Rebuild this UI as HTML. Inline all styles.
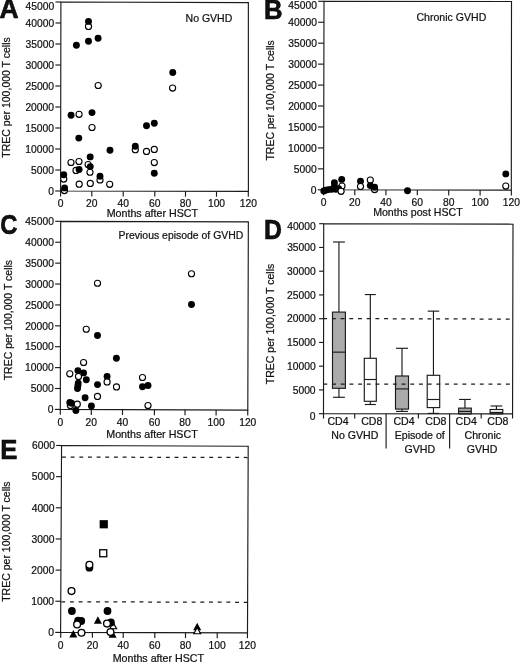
<!DOCTYPE html><html><head><meta charset="utf-8"><title>TREC figure</title><style>html,body{margin:0;padding:0;background:#fff;}svg{display:block;filter:grayscale(1) blur(0.3px);}text{font-family:"Liberation Sans",sans-serif;fill:#111;stroke:#111;stroke-width:0.22px;}</style></head><body>
<svg width="520" height="665" viewBox="0 0 520 665">
<rect width="520" height="665" fill="#fff"/>
<g stroke="#1b1b1b" fill="none" stroke-linecap="butt">
<polygon points="60.9,2 248.35,2.6 248.4,191.4 60.6,191" fill="none" stroke-width="1.15" stroke-linejoin="miter"/>
<polygon points="324,1.3 511.5,1.5 511.3,190.1 323.6,189.8" fill="none" stroke-width="1.15" stroke-linejoin="miter"/>
<polygon points="60.7,221.35 248.35,221.9 247.8,410.1 60.3,409.4" fill="none" stroke-width="1.15" stroke-linejoin="miter"/>
<polygon points="323.7,223.7 513,224.2 512.55,413.9 323.5,413.7" fill="none" stroke-width="1.15" stroke-linejoin="miter"/>
<polygon points="61.55,445.5 248.2,446.3 247.5,632.8 60.6,632.4" fill="none" stroke-width="1.15" stroke-linejoin="miter"/>
<line x1="55.2" y1="191" x2="60.6" y2="191" stroke-width="1.15"/>
<text x="53.9" y="194.7" font-size="10.3" text-anchor="end">0</text>
<line x1="55.23" y1="170" x2="60.63" y2="170" stroke-width="1.15"/>
<text x="53.93" y="173.7" font-size="10.3" text-anchor="end">5000</text>
<line x1="55.27" y1="149" x2="60.67" y2="149" stroke-width="1.15"/>
<text x="53.97" y="152.7" font-size="10.3" text-anchor="end">10000</text>
<line x1="55.3" y1="128" x2="60.7" y2="128" stroke-width="1.15"/>
<text x="54" y="131.7" font-size="10.3" text-anchor="end">15000</text>
<line x1="55.33" y1="107" x2="60.73" y2="107" stroke-width="1.15"/>
<text x="54.03" y="110.7" font-size="10.3" text-anchor="end">20000</text>
<line x1="55.37" y1="86" x2="60.77" y2="86" stroke-width="1.15"/>
<text x="54.07" y="89.7" font-size="10.3" text-anchor="end">25000</text>
<line x1="55.4" y1="65" x2="60.8" y2="65" stroke-width="1.15"/>
<text x="54.1" y="68.7" font-size="10.3" text-anchor="end">30000</text>
<line x1="55.43" y1="44" x2="60.83" y2="44" stroke-width="1.15"/>
<text x="54.13" y="47.7" font-size="10.3" text-anchor="end">35000</text>
<line x1="55.47" y1="23" x2="60.87" y2="23" stroke-width="1.15"/>
<text x="54.17" y="26.7" font-size="10.3" text-anchor="end">40000</text>
<line x1="55.5" y1="2" x2="60.9" y2="2" stroke-width="1.15"/>
<text x="54.2" y="9.7" font-size="10.3" text-anchor="end">45000</text>
<line x1="60.6" y1="191" x2="60.6" y2="196.4" stroke-width="1.15"/>
<text x="60.6" y="207.2" font-size="10.3" text-anchor="middle">0</text>
<line x1="91.8" y1="191.07" x2="91.8" y2="196.47" stroke-width="1.15"/>
<text x="91.8" y="207.2" font-size="10.3" text-anchor="middle">20</text>
<line x1="123.2" y1="191.13" x2="123.2" y2="196.53" stroke-width="1.15"/>
<text x="123.2" y="207.2" font-size="10.3" text-anchor="middle">40</text>
<line x1="154.8" y1="191.2" x2="154.8" y2="196.6" stroke-width="1.15"/>
<text x="154.8" y="207.2" font-size="10.3" text-anchor="middle">60</text>
<line x1="185.5" y1="191.27" x2="185.5" y2="196.67" stroke-width="1.15"/>
<text x="185.5" y="207.2" font-size="10.3" text-anchor="middle">80</text>
<line x1="216.5" y1="191.33" x2="216.5" y2="196.73" stroke-width="1.15"/>
<text x="216.5" y="207.2" font-size="10.3" text-anchor="middle">100</text>
<line x1="248.3" y1="191.4" x2="248.3" y2="196.8" stroke-width="1.15"/>
<text x="248.3" y="207.2" font-size="10.3" text-anchor="middle">120</text>
<line x1="317.8" y1="189.8" x2="323.6" y2="189.8" stroke-width="1.15"/>
<text x="316.6" y="193.5" font-size="10.3" text-anchor="end">0</text>
<line x1="317.84" y1="168.86" x2="323.64" y2="168.86" stroke-width="1.15"/>
<text x="316.64" y="172.56" font-size="10.3" text-anchor="end">5000</text>
<line x1="317.89" y1="147.91" x2="323.69" y2="147.91" stroke-width="1.15"/>
<text x="316.69" y="151.61" font-size="10.3" text-anchor="end">10000</text>
<line x1="317.93" y1="126.97" x2="323.73" y2="126.97" stroke-width="1.15"/>
<text x="316.73" y="130.67" font-size="10.3" text-anchor="end">15000</text>
<line x1="317.98" y1="106.02" x2="323.78" y2="106.02" stroke-width="1.15"/>
<text x="316.78" y="109.72" font-size="10.3" text-anchor="end">20000</text>
<line x1="318.02" y1="85.08" x2="323.82" y2="85.08" stroke-width="1.15"/>
<text x="316.82" y="88.78" font-size="10.3" text-anchor="end">25000</text>
<line x1="318.07" y1="64.13" x2="323.87" y2="64.13" stroke-width="1.15"/>
<text x="316.87" y="67.83" font-size="10.3" text-anchor="end">30000</text>
<line x1="318.11" y1="43.19" x2="323.91" y2="43.19" stroke-width="1.15"/>
<text x="316.91" y="46.89" font-size="10.3" text-anchor="end">35000</text>
<line x1="318.16" y1="22.24" x2="323.96" y2="22.24" stroke-width="1.15"/>
<text x="316.96" y="25.94" font-size="10.3" text-anchor="end">40000</text>
<line x1="318.2" y1="1.3" x2="324" y2="1.3" stroke-width="1.15"/>
<text x="317" y="8.9" font-size="10.3" text-anchor="end">45000</text>
<line x1="323.6" y1="189.8" x2="323.6" y2="195.2" stroke-width="1.15"/>
<text x="323.6" y="206.3" font-size="10.3" text-anchor="middle">0</text>
<line x1="354.8" y1="189.85" x2="354.8" y2="195.25" stroke-width="1.15"/>
<text x="354.8" y="206.3" font-size="10.3" text-anchor="middle">20</text>
<line x1="385.9" y1="189.9" x2="385.9" y2="195.3" stroke-width="1.15"/>
<text x="385.9" y="206.3" font-size="10.3" text-anchor="middle">40</text>
<line x1="417.3" y1="189.95" x2="417.3" y2="195.35" stroke-width="1.15"/>
<text x="417.3" y="206.3" font-size="10.3" text-anchor="middle">60</text>
<line x1="448.7" y1="190" x2="448.7" y2="195.4" stroke-width="1.15"/>
<text x="448.7" y="206.3" font-size="10.3" text-anchor="middle">80</text>
<line x1="480.1" y1="190.05" x2="480.1" y2="195.45" stroke-width="1.15"/>
<text x="480.1" y="206.3" font-size="10.3" text-anchor="middle">100</text>
<line x1="511.35" y1="190.1" x2="511.35" y2="195.5" stroke-width="1.15"/>
<text x="511.35" y="206.3" font-size="10.3" text-anchor="middle">120</text>
<line x1="54.9" y1="409.4" x2="60.3" y2="409.4" stroke-width="1.15"/>
<text x="53.6" y="413.1" font-size="10.3" text-anchor="end">0</text>
<line x1="54.94" y1="388.51" x2="60.34" y2="388.51" stroke-width="1.15"/>
<text x="53.64" y="392.21" font-size="10.3" text-anchor="end">5000</text>
<line x1="54.99" y1="367.61" x2="60.39" y2="367.61" stroke-width="1.15"/>
<text x="53.69" y="371.31" font-size="10.3" text-anchor="end">10000</text>
<line x1="55.03" y1="346.72" x2="60.43" y2="346.72" stroke-width="1.15"/>
<text x="53.73" y="350.42" font-size="10.3" text-anchor="end">15000</text>
<line x1="55.08" y1="325.82" x2="60.48" y2="325.82" stroke-width="1.15"/>
<text x="53.78" y="329.52" font-size="10.3" text-anchor="end">20000</text>
<line x1="55.12" y1="304.93" x2="60.52" y2="304.93" stroke-width="1.15"/>
<text x="53.82" y="308.63" font-size="10.3" text-anchor="end">25000</text>
<line x1="55.17" y1="284.03" x2="60.57" y2="284.03" stroke-width="1.15"/>
<text x="53.87" y="287.73" font-size="10.3" text-anchor="end">30000</text>
<line x1="55.21" y1="263.14" x2="60.61" y2="263.14" stroke-width="1.15"/>
<text x="53.91" y="266.84" font-size="10.3" text-anchor="end">35000</text>
<line x1="55.26" y1="242.24" x2="60.66" y2="242.24" stroke-width="1.15"/>
<text x="53.96" y="245.94" font-size="10.3" text-anchor="end">40000</text>
<line x1="55.3" y1="221.35" x2="60.7" y2="221.35" stroke-width="1.15"/>
<text x="54" y="225.05" font-size="10.3" text-anchor="end">45000</text>
<line x1="60.3" y1="409.4" x2="60.3" y2="414.8" stroke-width="1.15"/>
<text x="60.3" y="426" font-size="10.3" text-anchor="middle">0</text>
<line x1="91.3" y1="409.52" x2="91.3" y2="414.92" stroke-width="1.15"/>
<text x="91.3" y="426" font-size="10.3" text-anchor="middle">20</text>
<line x1="122.5" y1="409.63" x2="122.5" y2="415.03" stroke-width="1.15"/>
<text x="122.5" y="426" font-size="10.3" text-anchor="middle">40</text>
<line x1="154.4" y1="409.75" x2="154.4" y2="415.15" stroke-width="1.15"/>
<text x="154.4" y="426" font-size="10.3" text-anchor="middle">60</text>
<line x1="185" y1="409.87" x2="185" y2="415.27" stroke-width="1.15"/>
<text x="185" y="426" font-size="10.3" text-anchor="middle">80</text>
<line x1="216.1" y1="409.98" x2="216.1" y2="415.38" stroke-width="1.15"/>
<text x="216.1" y="426" font-size="10.3" text-anchor="middle">100</text>
<line x1="247.75" y1="410.1" x2="247.75" y2="415.5" stroke-width="1.15"/>
<text x="247.75" y="426" font-size="10.3" text-anchor="middle">120</text>
<line x1="319" y1="413.7" x2="323.5" y2="413.7" stroke-width="1.15"/>
<text x="315.6" y="419.9" font-size="10.3" text-anchor="end">0</text>
<line x1="319.02" y1="389.95" x2="323.52" y2="389.95" stroke-width="1.15"/>
<text x="315.62" y="393.65" font-size="10.3" text-anchor="end">5000</text>
<line x1="319.05" y1="366.2" x2="323.55" y2="366.2" stroke-width="1.15"/>
<text x="315.65" y="369.9" font-size="10.3" text-anchor="end">10000</text>
<line x1="319.07" y1="342.45" x2="323.57" y2="342.45" stroke-width="1.15"/>
<text x="315.68" y="346.15" font-size="10.3" text-anchor="end">15000</text>
<line x1="319.1" y1="318.7" x2="323.6" y2="318.7" stroke-width="1.15"/>
<text x="315.7" y="322.4" font-size="10.3" text-anchor="end">20000</text>
<line x1="319.12" y1="294.95" x2="323.62" y2="294.95" stroke-width="1.15"/>
<text x="315.73" y="298.65" font-size="10.3" text-anchor="end">25000</text>
<line x1="319.15" y1="271.2" x2="323.65" y2="271.2" stroke-width="1.15"/>
<text x="315.75" y="274.9" font-size="10.3" text-anchor="end">30000</text>
<line x1="319.18" y1="247.45" x2="323.68" y2="247.45" stroke-width="1.15"/>
<text x="315.78" y="251.15" font-size="10.3" text-anchor="end">35000</text>
<line x1="319.2" y1="223.7" x2="323.7" y2="223.7" stroke-width="1.15"/>
<text x="315.8" y="229.6" font-size="10.3" text-anchor="end">40000</text>
<line x1="55.25" y1="632.4" x2="60.6" y2="632.4" stroke-width="1.15"/>
<text x="53.95" y="636.1" font-size="10.3" text-anchor="end">0</text>
<line x1="55.41" y1="601.25" x2="60.76" y2="601.25" stroke-width="1.15"/>
<text x="54.11" y="604.95" font-size="10.3" text-anchor="end">1000</text>
<line x1="55.57" y1="570.1" x2="60.92" y2="570.1" stroke-width="1.15"/>
<text x="54.27" y="573.8" font-size="10.3" text-anchor="end">2000</text>
<line x1="55.73" y1="538.95" x2="61.08" y2="538.95" stroke-width="1.15"/>
<text x="54.43" y="542.65" font-size="10.3" text-anchor="end">3000</text>
<line x1="55.88" y1="507.8" x2="61.23" y2="507.8" stroke-width="1.15"/>
<text x="54.58" y="511.5" font-size="10.3" text-anchor="end">4000</text>
<line x1="56.04" y1="476.65" x2="61.39" y2="476.65" stroke-width="1.15"/>
<text x="54.74" y="480.35" font-size="10.3" text-anchor="end">5000</text>
<line x1="56.2" y1="445.5" x2="61.55" y2="445.5" stroke-width="1.15"/>
<text x="54.9" y="449.2" font-size="10.3" text-anchor="end">6000</text>
<line x1="60.7" y1="632.4" x2="60.7" y2="637.8" stroke-width="1.15"/>
<text x="60.7" y="649.3" font-size="10.3" text-anchor="middle">0</text>
<line x1="92.4" y1="632.47" x2="92.4" y2="637.87" stroke-width="1.15"/>
<text x="92.4" y="649.3" font-size="10.3" text-anchor="middle">20</text>
<line x1="123.2" y1="632.53" x2="123.2" y2="637.93" stroke-width="1.15"/>
<text x="123.2" y="649.3" font-size="10.3" text-anchor="middle">40</text>
<line x1="154.8" y1="632.6" x2="154.8" y2="638" stroke-width="1.15"/>
<text x="154.8" y="649.3" font-size="10.3" text-anchor="middle">60</text>
<line x1="185.5" y1="632.67" x2="185.5" y2="638.07" stroke-width="1.15"/>
<text x="185.5" y="649.3" font-size="10.3" text-anchor="middle">80</text>
<line x1="217.2" y1="632.74" x2="217.2" y2="638.14" stroke-width="1.15"/>
<text x="217.2" y="649.3" font-size="10.3" text-anchor="middle">100</text>
<line x1="247.45" y1="632.8" x2="247.45" y2="638.2" stroke-width="1.15"/>
<text x="247.45" y="649.3" font-size="10.3" text-anchor="middle">120</text>
<line x1="323.5" y1="413.8" x2="323.5" y2="418.5" stroke-width="1.15"/>
<line x1="354.7" y1="413.8" x2="354.7" y2="418.5" stroke-width="1.15"/>
<line x1="418.4" y1="413.8" x2="418.4" y2="418.5" stroke-width="1.15"/>
<line x1="481.2" y1="413.8" x2="481.2" y2="418.5" stroke-width="1.15"/>
<line x1="512.55" y1="413.8" x2="512.55" y2="418.5" stroke-width="1.15"/>
<line x1="386.1" y1="413.8" x2="386.1" y2="448.6" stroke-width="1.15"/>
<line x1="449.6" y1="413.8" x2="449.6" y2="448.6" stroke-width="1.15"/>
<line x1="62" y1="457.1" x2="247.6" y2="457.5" stroke-width="1.25" stroke-dasharray="3.9 4.76"/>
<line x1="61.3" y1="601.75" x2="247.3" y2="602.3" stroke-width="1.25" stroke-dasharray="3.9 4.79"/>
<line x1="338.95" y1="242" x2="338.95" y2="312.1" stroke-width="1.15"/>
<line x1="333.02" y1="242" x2="344.88" y2="242" stroke-width="1.15"/>
<line x1="338.95" y1="388.3" x2="338.95" y2="397.3" stroke-width="1.15"/>
<line x1="333.02" y1="397.3" x2="344.88" y2="397.3" stroke-width="1.15"/>
<rect x="332.5" y="312.1" width="12.9" height="76.2" fill="#aaaaaa" stroke-width="1.15"/>
<line x1="332.5" y1="352.15" x2="345.4" y2="352.15" stroke-width="1.15"/>
<line x1="370.3" y1="294.55" x2="370.3" y2="358.3" stroke-width="1.15"/>
<line x1="364.78" y1="294.55" x2="375.82" y2="294.55" stroke-width="1.15"/>
<line x1="370.3" y1="401.3" x2="370.3" y2="404.5" stroke-width="1.15"/>
<line x1="364.78" y1="404.5" x2="375.82" y2="404.5" stroke-width="1.15"/>
<rect x="364.3" y="358.3" width="12" height="43" fill="#fff" stroke-width="1.15"/>
<line x1="364.3" y1="379.5" x2="376.3" y2="379.5" stroke-width="1.15"/>
<line x1="402" y1="348.3" x2="402" y2="376" stroke-width="1.15"/>
<line x1="396.02" y1="348.3" x2="407.98" y2="348.3" stroke-width="1.15"/>
<line x1="402" y1="409.1" x2="402" y2="411.4" stroke-width="1.15"/>
<line x1="396.02" y1="411.4" x2="407.98" y2="411.4" stroke-width="1.15"/>
<rect x="395.5" y="376" width="13" height="33.1" fill="#aaaaaa" stroke-width="1.15"/>
<line x1="395.5" y1="388.9" x2="408.5" y2="388.9" stroke-width="1.15"/>
<line x1="433.45" y1="311.15" x2="433.45" y2="375.3" stroke-width="1.15"/>
<line x1="427.7" y1="311.15" x2="439.2" y2="311.15" stroke-width="1.15"/>
<line x1="433.45" y1="407.6" x2="433.45" y2="413.4" stroke-width="1.15"/>
<line x1="427.7" y1="413.4" x2="439.2" y2="413.4" stroke-width="1.15"/>
<rect x="427.2" y="375.3" width="12.5" height="32.3" fill="#fff" stroke-width="1.15"/>
<line x1="427.2" y1="399.5" x2="439.7" y2="399.5" stroke-width="1.15"/>
<line x1="464.95" y1="399.45" x2="464.95" y2="408.1" stroke-width="1.15"/>
<line x1="459.11" y1="399.45" x2="470.79" y2="399.45" stroke-width="1.15"/>
<line x1="464.95" y1="413.75" x2="464.95" y2="413.75" stroke-width="1.15"/>
<line x1="459.11" y1="413.75" x2="470.79" y2="413.75" stroke-width="1.15"/>
<rect x="458.6" y="408.1" width="12.7" height="5.65" fill="#aaaaaa" stroke-width="1.15"/>
<line x1="458.6" y1="411.4" x2="471.3" y2="411.4" stroke-width="1.15"/>
<line x1="496.45" y1="406" x2="496.45" y2="409.5" stroke-width="1.15"/>
<line x1="490.61" y1="406" x2="502.29" y2="406" stroke-width="1.15"/>
<line x1="496.45" y1="413.7" x2="496.45" y2="413.7" stroke-width="1.15"/>
<line x1="490.61" y1="413.7" x2="502.29" y2="413.7" stroke-width="1.15"/>
<rect x="490.1" y="409.5" width="12.7" height="4.2" fill="#fff" stroke-width="1.15"/>
<line x1="490.1" y1="412.4" x2="502.8" y2="412.4" stroke-width="1.15"/>
<line x1="323.25" y1="318.55" x2="512.2" y2="319.1" stroke-width="1.25" stroke-dasharray="3.9 4.79"/>
<line x1="323.4" y1="384.05" x2="512.2" y2="384.2" stroke-width="1.25" stroke-dasharray="3.9 4.79"/>
</g>
<g>
<circle cx="88.5" cy="26.4" r="3.05" fill="#fff" stroke="#000" stroke-width="1.12"/>
<circle cx="88.5" cy="21.4" r="3.45" fill="#000" stroke="none"/>
<circle cx="76.4" cy="45.3" r="3.45" fill="#000" stroke="none"/>
<circle cx="88.5" cy="41.2" r="3.45" fill="#000" stroke="none"/>
<circle cx="98.1" cy="38.2" r="3.45" fill="#000" stroke="none"/>
<circle cx="98.2" cy="85.5" r="3.05" fill="#fff" stroke="#000" stroke-width="1.12"/>
<circle cx="172.75" cy="72.45" r="3.45" fill="#000" stroke="none"/>
<circle cx="172.6" cy="88.1" r="3.05" fill="#fff" stroke="#000" stroke-width="1.12"/>
<circle cx="71.1" cy="115.3" r="3.45" fill="#000" stroke="none"/>
<circle cx="79.05" cy="114.3" r="3.05" fill="#fff" stroke="#000" stroke-width="1.12"/>
<circle cx="92" cy="112.6" r="3.45" fill="#000" stroke="none"/>
<circle cx="92" cy="127.5" r="3.05" fill="#fff" stroke="#000" stroke-width="1.12"/>
<circle cx="78.8" cy="138.1" r="3.45" fill="#000" stroke="none"/>
<circle cx="146.5" cy="125.75" r="3.45" fill="#000" stroke="none"/>
<circle cx="154.3" cy="123.3" r="3.45" fill="#000" stroke="none"/>
<circle cx="135.3" cy="149.7" r="3.05" fill="#fff" stroke="#000" stroke-width="1.12"/>
<circle cx="135.3" cy="146.3" r="3.45" fill="#000" stroke="none"/>
<circle cx="146.5" cy="151.4" r="3.05" fill="#fff" stroke="#000" stroke-width="1.12"/>
<circle cx="154.3" cy="149.4" r="3.05" fill="#fff" stroke="#000" stroke-width="1.12"/>
<circle cx="110" cy="150.3" r="3.45" fill="#000" stroke="none"/>
<circle cx="90.2" cy="156.9" r="3.45" fill="#000" stroke="none"/>
<circle cx="154.3" cy="162.6" r="3.05" fill="#fff" stroke="#000" stroke-width="1.12"/>
<circle cx="154.3" cy="173.2" r="3.45" fill="#000" stroke="none"/>
<circle cx="71" cy="162.5" r="3.05" fill="#fff" stroke="#000" stroke-width="1.12"/>
<circle cx="79" cy="161.5" r="3.05" fill="#fff" stroke="#000" stroke-width="1.12"/>
<circle cx="88.1" cy="164.6" r="3.05" fill="#fff" stroke="#000" stroke-width="1.12"/>
<circle cx="90" cy="172.25" r="3.05" fill="#fff" stroke="#000" stroke-width="1.12"/>
<circle cx="90.25" cy="166.6" r="3.45" fill="#000" stroke="none"/>
<circle cx="76" cy="170.4" r="3.05" fill="#fff" stroke="#000" stroke-width="1.12"/>
<circle cx="79.1" cy="169.5" r="3.45" fill="#000" stroke="none"/>
<circle cx="63.75" cy="179.1" r="3.05" fill="#fff" stroke="#000" stroke-width="1.12"/>
<circle cx="63.75" cy="174.75" r="3.45" fill="#000" stroke="none"/>
<circle cx="100" cy="180" r="3.05" fill="#fff" stroke="#000" stroke-width="1.12"/>
<circle cx="100" cy="176.25" r="3.45" fill="#000" stroke="none"/>
<circle cx="79.2" cy="184.2" r="3.05" fill="#fff" stroke="#000" stroke-width="1.12"/>
<circle cx="90.3" cy="183.4" r="3.05" fill="#fff" stroke="#000" stroke-width="1.12"/>
<circle cx="109.7" cy="184.3" r="3.05" fill="#fff" stroke="#000" stroke-width="1.12"/>
<circle cx="64.4" cy="190.6" r="3.05" fill="#fff" stroke="#000" stroke-width="1.12"/>
<circle cx="64.6" cy="187.9" r="3.45" fill="#000" stroke="none"/>
<circle cx="342" cy="186.1" r="3.05" fill="#fff" stroke="#000" stroke-width="1.12"/>
<circle cx="323.8" cy="191" r="3.45" fill="#000" stroke="none"/>
<circle cx="325.5" cy="190.3" r="3.45" fill="#000" stroke="none"/>
<circle cx="328.4" cy="189.6" r="3.45" fill="#000" stroke="none"/>
<circle cx="331.8" cy="189.3" r="3.45" fill="#000" stroke="none"/>
<circle cx="335.9" cy="189.3" r="3.45" fill="#000" stroke="none"/>
<circle cx="334.4" cy="186.4" r="3.45" fill="#000" stroke="none"/>
<circle cx="334.4" cy="182.7" r="3.45" fill="#000" stroke="none"/>
<circle cx="338.6" cy="188.6" r="3.45" fill="#000" stroke="none"/>
<circle cx="341.1" cy="191.3" r="3.05" fill="#fff" stroke="#000" stroke-width="1.12"/>
<circle cx="341.7" cy="179.4" r="3.45" fill="#000" stroke="none"/>
<circle cx="360.5" cy="181.2" r="3.45" fill="#000" stroke="none"/>
<circle cx="360.5" cy="186.5" r="3.05" fill="#fff" stroke="#000" stroke-width="1.12"/>
<circle cx="370.3" cy="180.1" r="3.05" fill="#fff" stroke="#000" stroke-width="1.12"/>
<circle cx="370.3" cy="185.6" r="3.45" fill="#000" stroke="none"/>
<circle cx="374.6" cy="189.6" r="3.05" fill="#fff" stroke="#000" stroke-width="1.12"/>
<circle cx="374.6" cy="187.3" r="3.45" fill="#000" stroke="none"/>
<circle cx="407.5" cy="190.8" r="3.45" fill="#000" stroke="none"/>
<circle cx="505.8" cy="173.9" r="3.45" fill="#000" stroke="none"/>
<circle cx="505.8" cy="186.1" r="3.05" fill="#fff" stroke="#000" stroke-width="1.12"/>
<circle cx="191.5" cy="273.75" r="3.05" fill="#fff" stroke="#000" stroke-width="1.12"/>
<circle cx="191.5" cy="304.5" r="3.45" fill="#000" stroke="none"/>
<circle cx="97.5" cy="283.25" r="3.05" fill="#fff" stroke="#000" stroke-width="1.12"/>
<circle cx="86.25" cy="329.25" r="3.05" fill="#fff" stroke="#000" stroke-width="1.12"/>
<circle cx="97.5" cy="335.5" r="3.45" fill="#000" stroke="none"/>
<circle cx="116.4" cy="358.3" r="3.45" fill="#000" stroke="none"/>
<circle cx="83.6" cy="362.5" r="3.05" fill="#fff" stroke="#000" stroke-width="1.12"/>
<circle cx="69.8" cy="373.8" r="3.05" fill="#fff" stroke="#000" stroke-width="1.12"/>
<circle cx="77.9" cy="370.6" r="3.45" fill="#000" stroke="none"/>
<circle cx="83.6" cy="372.9" r="3.45" fill="#000" stroke="none"/>
<circle cx="78.5" cy="376.4" r="3.05" fill="#fff" stroke="#000" stroke-width="1.12"/>
<circle cx="86.3" cy="379.8" r="3.45" fill="#000" stroke="none"/>
<circle cx="78.2" cy="383.1" r="3.45" fill="#000" stroke="none"/>
<circle cx="77.9" cy="385.6" r="3.45" fill="#000" stroke="none"/>
<circle cx="77.5" cy="388.6" r="3.45" fill="#000" stroke="none"/>
<circle cx="97.5" cy="384.6" r="3.45" fill="#000" stroke="none"/>
<circle cx="107.1" cy="376.5" r="3.45" fill="#000" stroke="none"/>
<circle cx="107.1" cy="381.9" r="3.05" fill="#fff" stroke="#000" stroke-width="1.12"/>
<circle cx="116.5" cy="386.9" r="3.05" fill="#fff" stroke="#000" stroke-width="1.12"/>
<circle cx="142.5" cy="377.5" r="3.05" fill="#fff" stroke="#000" stroke-width="1.12"/>
<circle cx="142.5" cy="386.75" r="3.45" fill="#000" stroke="none"/>
<circle cx="148" cy="385.5" r="3.45" fill="#000" stroke="none"/>
<circle cx="85.1" cy="397.8" r="3.45" fill="#000" stroke="none"/>
<circle cx="97.5" cy="396.4" r="3.05" fill="#fff" stroke="#000" stroke-width="1.12"/>
<circle cx="70.4" cy="405.6" r="3.05" fill="#fff" stroke="#000" stroke-width="1.12"/>
<circle cx="69.8" cy="402.4" r="3.45" fill="#000" stroke="none"/>
<circle cx="71.5" cy="403.3" r="3.45" fill="#000" stroke="none"/>
<circle cx="77.3" cy="404.2" r="3.05" fill="#fff" stroke="#000" stroke-width="1.12"/>
<circle cx="75.9" cy="410.5" r="3.45" fill="#000" stroke="none"/>
<circle cx="91.4" cy="405.9" r="3.45" fill="#000" stroke="none"/>
<circle cx="148" cy="405.5" r="3.05" fill="#fff" stroke="#000" stroke-width="1.12"/>
<rect x="99.65" y="520.15" width="8.2" height="8.2" fill="#000" stroke="none"/>
<rect x="99.75" y="549.75" width="7" height="7" fill="#fff" stroke="#000" stroke-width="1.3"/>
<circle cx="89.4" cy="567.7" r="3.9" fill="#000" stroke="none"/>
<circle cx="89.4" cy="564.8" r="3.4" fill="#fff" stroke="#000" stroke-width="1.35"/>
<circle cx="71.5" cy="591.1" r="3.4" fill="#fff" stroke="#000" stroke-width="1.35"/>
<circle cx="71.9" cy="611" r="3.9" fill="#000" stroke="none"/>
<circle cx="107.5" cy="611" r="3.9" fill="#000" stroke="none"/>
<circle cx="78.1" cy="620.6" r="3.9" fill="#000" stroke="none"/>
<circle cx="81.25" cy="621" r="3.9" fill="#000" stroke="none"/>
<circle cx="77.1" cy="624.4" r="3.4" fill="#fff" stroke="#000" stroke-width="1.35"/>
<polygon points="97.9,616.25 101.9,623.75 93.9,623.75" fill="#000" stroke="none"/>
<polygon points="113.2,622.45 116.6,628.75 109.8,628.75" fill="#fff" stroke="#000" stroke-width="1.2"/>
<circle cx="110.9" cy="622.4" r="3.9" fill="#000" stroke="none"/>
<circle cx="107" cy="623.6" r="3.4" fill="#fff" stroke="#000" stroke-width="1.35"/>
<polygon points="73.3,630 77.3,637.5 69.3,637.5" fill="#000" stroke="none"/>
<circle cx="81.5" cy="632.75" r="3.4" fill="#fff" stroke="#000" stroke-width="1.35"/>
<polygon points="112.6,630.35 116.6,637.85 108.6,637.85" fill="#000" stroke="none"/>
<circle cx="110.5" cy="632.1" r="3.4" fill="#fff" stroke="#000" stroke-width="1.35"/>
<polygon points="197.2,622.85 201.2,630.35 193.2,630.35" fill="#000" stroke="none"/>
<polygon points="197.2,627.45 200.6,633.75 193.8,633.75" fill="#fff" stroke="#000" stroke-width="1.2"/>
</g>
<g>
<text x="0" y="0" font-size="27.0" font-weight="bold" transform="translate(-0.6,17.5) scale(0.98,1)" style="stroke:#000;stroke-width:0.6px">A</text>
<text x="0" y="0" font-size="27.0" font-weight="bold" transform="translate(264,18.9) scale(0.95,1)" style="stroke:#000;stroke-width:0.6px">B</text>
<text x="0" y="0" font-size="27.0" font-weight="bold" transform="translate(0.3,234.3) scale(0.88,1)" style="stroke:#000;stroke-width:0.6px">C</text>
<text x="0" y="0" font-size="27.0" font-weight="bold" transform="translate(264,238.5) scale(0.92,1)" style="stroke:#000;stroke-width:0.6px">D</text>
<text x="0" y="0" font-size="28.0" font-weight="bold" transform="translate(0.2,459) scale(0.92,1)" style="stroke:#000;stroke-width:0.6px">E</text>
<text x="0" y="0" font-size="10.5" text-anchor="middle" transform="translate(10,97.45) rotate(-90)">TREC per 100,000 T cells</text>
<text x="0" y="0" font-size="10.5" text-anchor="middle" transform="translate(273.7,100.4) rotate(-90)">TREC per 100,000 T cells</text>
<text x="0" y="0" font-size="10.5" text-anchor="middle" transform="translate(12,320.15) rotate(-90)">TREC per 100,000 T cells</text>
<text x="0" y="0" font-size="10.5" text-anchor="middle" transform="translate(274.2,324) rotate(-90)">TREC per 100,000 T cells</text>
<text x="0" y="0" font-size="10.5" text-anchor="middle" transform="translate(9.7,541.6) rotate(-90)">TREC per 100,000 T cells</text>
<text x="152.4" y="217.3" font-size="10.7" text-anchor="middle">Months after HSCT</text>
<text x="417.9" y="216.3" font-size="10.6" text-anchor="middle">Months post HSCT</text>
<text x="152" y="437.6" font-size="10.7" text-anchor="middle">Months after HSCT</text>
<text x="158.4" y="661.6" font-size="10.7" text-anchor="middle">Months after HSCT</text>
<text x="185.6" y="21.8" font-size="10.5">No GVHD</text>
<text x="416.5" y="20.6" font-size="10.55">Chronic GVHD</text>
<text x="118.6" y="239.3" font-size="10.45">Previous episode of GVHD</text>
<text x="338" y="425.2" font-size="10.6" text-anchor="middle">CD4</text>
<text x="371.8" y="425.2" font-size="10.6" text-anchor="middle">CD8</text>
<text x="404" y="425.2" font-size="10.6" text-anchor="middle">CD4</text>
<text x="435.9" y="425.2" font-size="10.6" text-anchor="middle">CD8</text>
<text x="466.2" y="425.2" font-size="10.6" text-anchor="middle">CD4</text>
<text x="497.9" y="425.2" font-size="10.6" text-anchor="middle">CD8</text>
<text x="354.85" y="439.3" font-size="10.6" text-anchor="middle">No GVHD</text>
<text x="419.75" y="439" font-size="10.6" text-anchor="middle">Episode of</text>
<text x="419.75" y="452.6" font-size="10.6" text-anchor="middle">GVHD</text>
<text x="482.85" y="439" font-size="10.6" text-anchor="middle">Chronic</text>
<text x="482" y="452.6" font-size="10.6" text-anchor="middle">GVHD</text>
</g>
</svg></body></html>
